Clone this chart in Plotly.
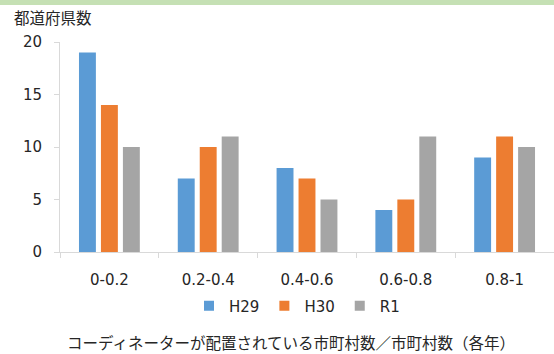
import plotly.graph_objects as go

categories = ["0-0.2", "0.2-0.4", "0.4-0.6", "0.6-0.8", "0.8-1"]
h29 = [19, 7, 8, 4, 9]
h30 = [14, 10, 7, 5, 11]
r1 = [10, 11, 5, 11, 10]
series_names = ["H29", "H30", "R1"]
colors = ["#5B9BD5", "#ED7D31", "#A5A5A5"]
y_title = "都道府県数"
x_title = "コーディネーターが配置されている市町村数／市町村数（各年）"

W, H = 554, 354
ML, MR, MT, MB = 60, 0, 42, 102
ph = H - MT - MB

def py(pix):
    return (H - MB - pix) / ph

def px(pix):
    return (pix - ML) / (W - ML - MR)

latin = "DejaVu Sans, Noto Sans CJK JP"
cjk = "Noto Sans CJK JP"
txt = "#262626"

fig = go.Figure()
for name, vals, c in zip(series_names, [h29, h30, r1], colors):
    fig.add_trace(go.Bar(x=categories, y=vals, name=name, marker=dict(color=c, line=dict(width=0)),
                         showlegend=False))
    fig.add_trace(go.Scatter(x=[None], y=[None], mode="markers", name=name,
                             marker=dict(symbol="square", size=10, color=c)))

fig.update_layout(
    width=W, height=H,
    margin=dict(l=ML, r=MR, t=MT, b=MB),
    paper_bgcolor="white", plot_bgcolor="white",
    barmode="group", bargap=0.333, bargroupgap=0.23,
    font=dict(family=latin, size=15, color=txt),
    showlegend=True,
    legend=dict(orientation="h", x=px(297), xanchor="center", y=py(306), yanchor="middle",
                font=dict(family=latin, size=15, color=txt), itemwidth=30,
                tracegroupgap=0, bgcolor="rgba(0,0,0,0)"),
    xaxis=dict(showgrid=False, showline=True, linecolor="#D9D9D9", linewidth=1,
               ticks="outside", tickson="boundaries", ticklen=5, tickcolor="#D9D9D9",
               ticklabelstandoff=14, tickfont=dict(family=latin, size=15, color=txt),
               zeroline=False, fixedrange=True),
    yaxis=dict(range=[0, 20], dtick=5, showgrid=False, showline=True, linecolor="#D9D9D9",
               linewidth=1, ticks="outside", ticklen=5, tickcolor="#D9D9D9",
               ticklabelstandoff=9, tickfont=dict(family=latin, size=15, color=txt),
               zeroline=False, fixedrange=True),
    shapes=[dict(type="rect", xref="paper", yref="paper", x0=px(-10), x1=px(W + 10),
                 y0=py(5), y1=py(-5), fillcolor="#C5E0B4", line=dict(width=0), layer="above")],
    annotations=[
        dict(text=y_title, xref="paper", yref="paper", x=px(12), y=py(17), xanchor="left",
             yanchor="middle", showarrow=False, font=dict(family=cjk, size=15.5, color=txt)),
        dict(text=x_title, xref="paper", yref="paper", x=px(291), y=py(342), xanchor="center",
             yanchor="middle", showarrow=False, font=dict(family=cjk, size=15.5, color=txt)),
    ],
)

fig.write_html("out.html")
